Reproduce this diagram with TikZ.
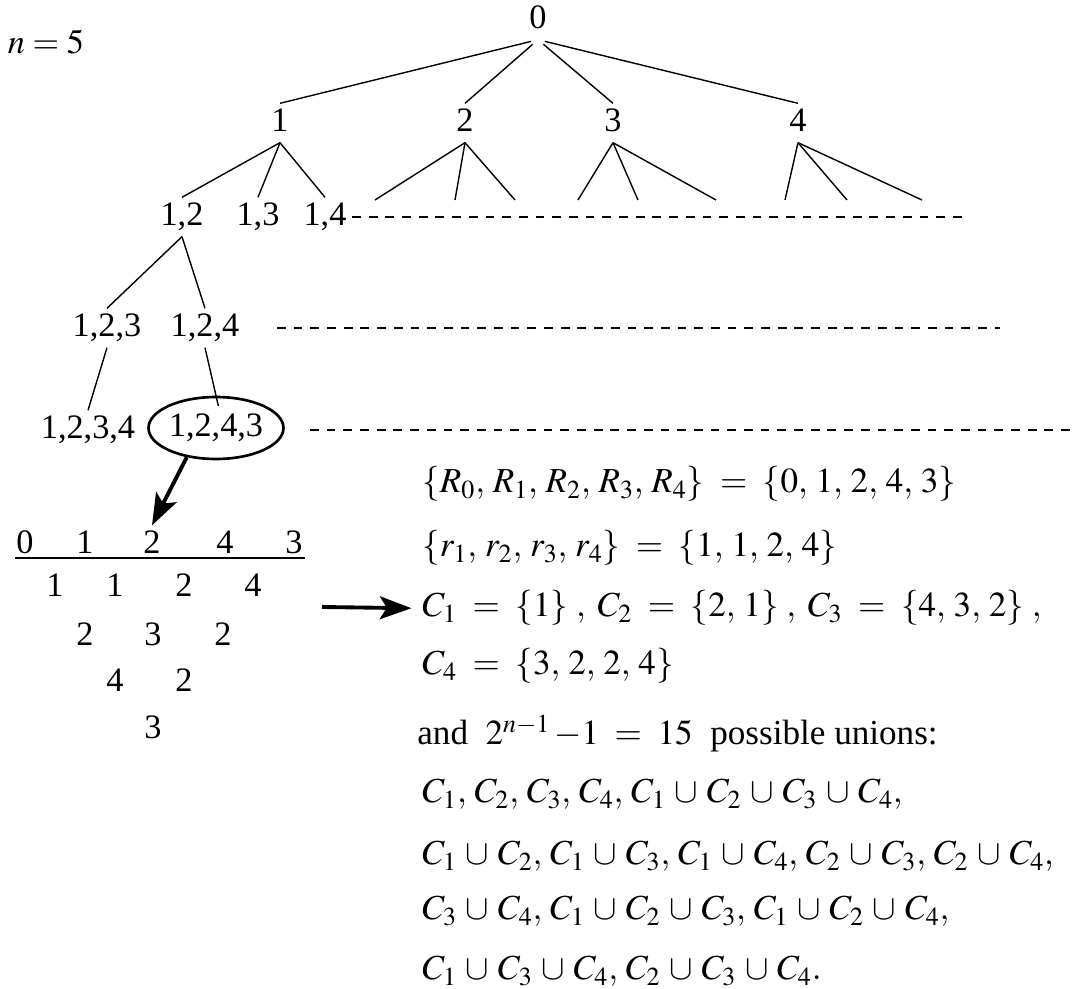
\documentclass[tikz,border=0pt]{standalone}
\usepackage{mathptmx}
\usepackage[no-math]{fontspec}
\setmainfont{Liberation Serif}
\usetikzlibrary{
    arrows.meta,
    shapes.geometric
}
\tikzset{
  lbl/.style     = {inner sep=3pt, text height=13pt, text depth=3pt,
                    font=\fontsize{19.5}{22}\selectfont},
  leaf/.style    = {lbl, draw, ellipse, line width=1.5pt, inner sep=0pt,
                    minimum width=2.7cm, minimum height=1.24cm},
  branch/.style  = {line width=0.8pt},
  dotline/.style = {line width=1.3pt, dash pattern=on 5pt off 4.5pt},
  bigarr/.style  = {line width=2.2pt, -{Stealth[length=18pt,width=13pt,inset=4pt]}},
  txt/.style     = {anchor=base west, inner sep=0pt,
                    font=\fontsize{20}{24}\selectfont}
}
\newcommand{\un}{\,\cup\,}

\begin{document}
\begin{tikzpicture}[x=0.02cm,y=-0.02cm]
\useasboundingbox (0,0) rectangle (1073,989);
% search tree
\node[lbl] (nn) at (46,45) {$n=5$};
\node[lbl] (r) at (538,20) {0};
\node[lbl] (a1) at (280,123) {1};
\node[lbl] (a2) at (465,123) {2};
\node[lbl] (a3) at (613,123) {3};
\node[lbl] (a4) at (798,123) {4};
\foreach \k in {1,...,4} \draw[branch, shorten <=4pt] (r.south) -- (a\k.north);
\node[lbl] (b12) at (182,217) {1,2};
\node[lbl] (b13) at (258,217) {1,3};
\node[lbl] (b14) at (325,217) {1,4};
\draw[branch] (a1.south) -- (b12.north);
\draw[branch] (a1.south) -- (b13.north);
\draw[branch] (a1.south) -- (b14.north);
\coordinate (s21) at (375,200); \coordinate (s22) at (455,200); \coordinate (s23) at (515,200);
\coordinate (s31) at (578,200); \coordinate (s32) at (638,200); \coordinate (s33) at (716,200);
\coordinate (s41) at (785,200); \coordinate (s42) at (847,200); \coordinate (s43) at (922,200);
\foreach \k in {2,3,4}
  \foreach \j in {1,2,3}
    \draw[branch] (a\k.south) -- (s\k\j);
\coordinate (e2) at (965,217);
\draw[dotline] (b14.east) -- (e2);
\node[lbl] (c123) at (107,328) {1,2,3};
\node[lbl] (c124) at (205,328) {1,2,4};
\draw[branch] (b12.south) -- (c123.north);
\draw[branch] (b12.south) -- (c124.north);
\coordinate (f3) at (277,328); \coordinate (e3) at (1000,328);
\draw[dotline] (f3) -- (e3);
\node[lbl] (d1234) at (88,430) {1,2,3,4};
\node[leaf] (d1243) at (216,428) {1,2,4,3};
\draw[branch] (c123.south) -- (d1234.north);
\draw[branch, shorten >=-6pt] (c124.south) -- (d1243.north);
\coordinate (f4) at (310,430); \coordinate (e4) at (1073,430);
\draw[dotline] (f4) -- (e4);
% difference triangle
\node[lbl] (t00) at (25,545) {0};
\node[lbl] (t01) at (85,545) {1};
\node[lbl] (t02) at (152,545) {2};
\node[lbl] (t03) at (225,545) {4};
\node[lbl] (t04) at (294,545) {3};
\coordinate (u1) at (15,558); \coordinate (u2) at (305,558);
\draw[line width=1pt] (u1) -- (u2);
\node[lbl] (t10) at (55,588) {1};
\node[lbl] (t11) at (115,588) {1};
\node[lbl] (t12) at (184,588) {2};
\node[lbl] (t13) at (253,588) {4};
\node[lbl] (t20) at (85,637) {2};
\node[lbl] (t21) at (153,637) {3};
\node[lbl] (t22) at (223,637) {2};
\node[lbl] (t30) at (115,683) {4};
\node[lbl] (t31) at (184,683) {2};
\node[lbl] (t40) at (153,730) {3};
\draw[bigarr] (d1243.225) -- (t02.north);
% the sets
\node[txt] (l1) at (422,493) {$\{R_0,\,R_1,\,R_2,\,R_3,\,R_4\}\;=\;\{0,\,1,\,2,\,4,\,3\}$};
\node[txt] (l2) at (422,557) {$\{r_1,\,r_2,\,r_3,\,r_4\}\;=\;\{1,\,1,\,2,\,4\}$};
\node[txt] (l3) at (422,617) {$C_1\;=\;\{1\}\;,\;C_2\;=\;\{2,\,1\}\;,\;C_3\;=\;\{4,\,3,\,2\}\;,$};
\node[txt] (l4) at (422,675) {$C_4\;=\;\{3,\,2,\,2,\,4\}$};
\node[txt] (l5) at (417,745) {and\ \ $2^{n-1}\,{-}1\;=\;15$\ \ possible\ unions:};
\node[txt] (l6) at (422,803) {$C_1,\,C_2,\,C_3,\,C_4,\,C_1\un C_2\un C_3\un C_4,$};
\node[txt] (l7) at (422,865) {$C_1\un C_2,\,C_1\un C_3,\,C_1\un C_4,\,C_2\un C_3,\,C_2\un C_4,$};
\node[txt] (l8) at (422,920) {$C_3\un C_4,\,C_1\un C_2\un C_3,\,C_1\un C_2\un C_4,$};
\node[txt] (l9) at (422,980) {$C_1\un C_3\un C_4,\,C_2\un C_3\un C_4.$};
\coordinate (g) at (322,607);
\draw[bigarr, shorten >=6pt] (g) -- (l3.west);
\end{tikzpicture}
\end{document}
